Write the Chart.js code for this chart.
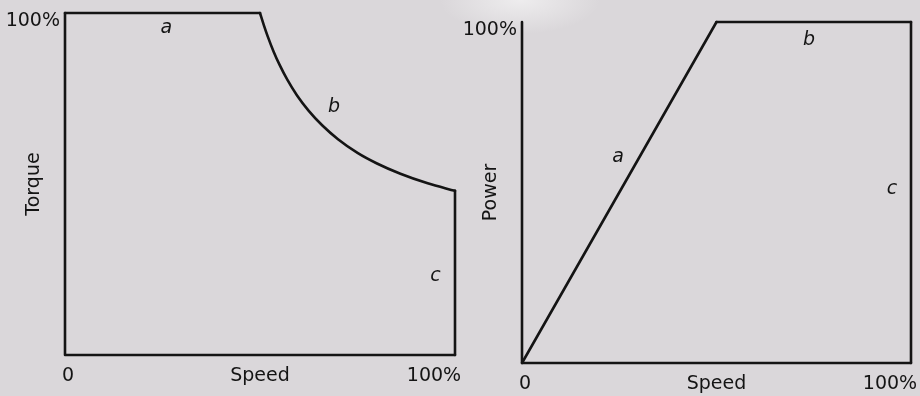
<!DOCTYPE html>
<html>
<head>
<meta charset="utf-8">
<script src="https://cdn.jsdelivr.net/npm/chart.js@4"></script>
<style>
  html, body { margin: 0; padding: 0; }
  body {
    width: 920px;
    height: 396px;
    overflow: hidden;
    position: relative;
    background:
      radial-gradient(ellipse 80px 34px at 520px 0px, rgba(240, 239, 240, 0.9), rgba(240, 239, 240, 0)),
      #dad7da;
  }
  .panel { position: absolute; top: 0; width: 460px; height: 396px; }
  #torquePanel { left: 0; }
  #powerPanel { left: 460px; }
</style>
</head>
<body>
<div class="panel" id="torquePanel"><canvas id="torqueChart" width="460" height="396"></canvas></div>
<div class="panel" id="powerPanel"><canvas id="powerChart" width="460" height="396"></canvas></div>
<script>
const INK = "#141414";
const FONT = '"DejaVu Sans", "Liberation Sans", sans-serif';

// Shared axis text
const speedTitle = "Speed";
const speedTickLabels = ["0", "100%"];
const valueTickLabel = "100%";

// Axis frame (same for both charts): y axis down to origin, x axis out to 100 %
const frameSpeed = [0, 0, 100];
const frameValue = [100, 0, 0];

// Torque vs speed
const torqueASpeed = [0, 50];
const torqueAValue = [100, 100];
const torqueBSpeed = [50, 51, 52, 53.5, 55, 57, 59.5, 62.5, 66, 70, 75, 80, 86, 93, 100];
const torqueBValue = [100, 96.4, 93.1, 88.7, 84.9, 80.5, 75.9, 71.4, 67.1, 63.1, 59.1, 56, 53, 50.2, 48];
const torqueCSpeed = [100, 100];
const torqueCValue = [48, 0];

// Power vs speed
const powerASpeed = [0, 50];
const powerAValue = [0, 100];
const powerBSpeed = [50, 100];
const powerBValue = [100, 100];
const powerCSpeed = [100, 100];
const powerCValue = [100, 0];

// Region letters, placed in data units
const torqueMarks = [["a", 26, 95.6], ["b", 69, 72.5], ["c", 95, 23]];
const powerMarks = [["a", 24.7, 60.4], ["b", 73.8, 94.7], ["c", 95.1, 51]];

const toPoints = (xs, ys) => xs.map((x, i) => ({ x, y: ys[i] }));

function lineSet(xs, ys, smooth = false) {
  return {
    data: toPoints(xs, ys),
    showLine: true,
    borderColor: INK,
    borderWidth: 2.6,
    borderCapStyle: "round",
    borderJoinStyle: "round",
    pointRadius: 0,
    cubicInterpolationMode: smooth ? "monotone" : "default",
    tension: 0,
    clip: false,
  };
}

// Draws tick labels, axis titles and the a/b/c letters from the scales
function textPlugin(yTitle, marks) {
  return {
    id: "diagramText",
    afterDraw(chart) {
      const { ctx, scales } = chart;
      const x = scales.x, y = scales.y;
      const x0 = x.getPixelForValue(0), x100 = x.getPixelForValue(100);
      const y0 = y.getPixelForValue(0), y100 = y.getPixelForValue(100);

      ctx.save();
      ctx.fillStyle = INK;
      ctx.textBaseline = "middle";
      ctx.font = `19px ${FONT}`;

      // value axis top tick
      ctx.textAlign = "right";
      ctx.fillText(valueTickLabel, x0 - 5, y100 + 8);

      // speed axis ticks and title
      ctx.textAlign = "center";
      ctx.fillText(speedTickLabels[0], x0 + 3, y0 + 21);
      ctx.fillText(speedTickLabels[1], x100 - 21, y0 + 21);
      ctx.fillText(speedTitle, x.getPixelForValue(50), y0 + 21);

      // rotated value axis title
      ctx.save();
      ctx.translate(x0 - 31, y.getPixelForValue(50));
      ctx.rotate(-Math.PI / 2);
      ctx.fillText(yTitle, 0, 0);
      ctx.restore();

      // region letters
      ctx.font = `italic 19px ${FONT}`;
      marks.forEach(([txt, sx, sv]) => {
        ctx.fillText(txt, x.getPixelForValue(sx), y.getPixelForValue(sv));
      });
      ctx.restore();
    },
  };
}

function buildChart(canvasId, datasets, yTitle, marks, padding) {
  return new Chart(document.getElementById(canvasId), {
    type: "scatter",
    data: { datasets },
    options: {
      responsive: false,
      animation: false,
      events: [],
      devicePixelRatio: 1,
      layout: { padding },
      scales: {
        x: { type: "linear", min: 0, max: 100, display: false },
        y: { type: "linear", min: 0, max: 100, display: false },
      },
      plugins: { legend: { display: false }, tooltip: { enabled: false } },
    },
    plugins: [textPlugin(yTitle, marks)],
  });
}

buildChart(
  "torqueChart",
  [
    lineSet(frameSpeed, frameValue),
    lineSet(torqueASpeed, torqueAValue),
    lineSet(torqueBSpeed, torqueBValue, true),
    lineSet(torqueCSpeed, torqueCValue),
  ],
  "Torque",
  torqueMarks,
  { left: 65, right: 5, top: 13, bottom: 41 }
);

buildChart(
  "powerChart",
  [
    lineSet(frameSpeed, frameValue),
    lineSet(powerASpeed, powerAValue),
    lineSet(powerBSpeed, powerBValue),
    lineSet(powerCSpeed, powerCValue),
  ],
  "Power",
  powerMarks,
  { left: 62, right: 9, top: 22, bottom: 33 }
);
</script>
</body>
</html>
